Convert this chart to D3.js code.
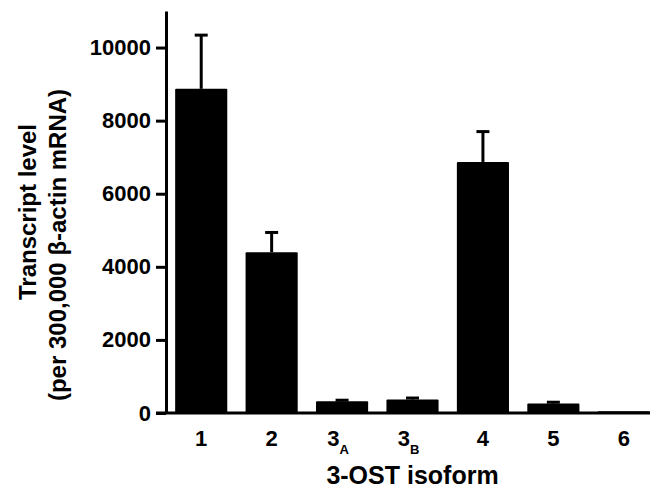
<!DOCTYPE html>
<html>
<head>
<meta charset="utf-8">
<script src="https://cdn.jsdelivr.net/npm/d3@7"></script>
<style>
  body { margin: 0; background: #fff; }
  text { font-family: "Liberation Sans", Arial, sans-serif; font-weight: bold; }
</style>
</head>
<body>
<div id="chart"></div>
<script>
(function() {
    // data
    var isoforms = ["1", "2", "3A", "3B", "4", "5", "6"];
    var mainLabels = ["1", "2", "3", "3", "4", "5", "6"];
    var subLabels = ["", "", "A", "B", "", "", ""];
    var means = [8870, 4400, 320, 370, 6870, 260, 50];
    var errors = [1470, 540, 30, 40, 830, 35, 0];
    var yTicks = [0, 2000, 4000, 6000, 8000, 10000];

    var W = 650, H = 491;
    var margin = {top: 11, right: -9, bottom: 78, left: 166},
        width = W - margin.left - margin.right,
        height = H - margin.top - margin.bottom;

    var svg = d3.select("#chart").append("svg")
        .attr("width", W)
        .attr("height", H)
        .append("g")
        .attr("transform", "translate(" + margin.left + "," + margin.top + ")");

    var x = d3.scaleBand()
        .domain(isoforms)
        .range([0, width])
        .paddingInner(0.26)
        .paddingOuter(0.13);

    var y = d3.scaleLinear()
        .domain([0, 11000])
        .range([height, 0]);

    var data = isoforms.map(function(k, i) {
        return {key: k, mean: means[i], err: errors[i], main: mainLabels[i], sub: subLabels[i]};
    });

    // bars
    svg.selectAll(".bar")
        .data(data)
        .enter().append("rect")
        .attr("class", "bar")
        .attr("x", d => x(d.key))
        .attr("y", d => y(d.mean))
        .attr("width", x.bandwidth())
        .attr("height", d => height - y(d.mean))
        .attr("rx", 1)
        .style("fill", "#000");

    // error bars (upper only)
    var capW = 13;
    var eb = svg.selectAll(".err")
        .data(data.filter(d => d.err > 0))
        .enter().append("g")
        .attr("class", "err");
    eb.append("line")
        .attr("x1", d => x(d.key) + x.bandwidth() / 2)
        .attr("x2", d => x(d.key) + x.bandwidth() / 2)
        .attr("y1", d => y(d.mean))
        .attr("y2", d => y(d.mean + d.err))
        .attr("stroke", "#000")
        .attr("stroke-width", 3);
    eb.append("line")
        .attr("x1", d => x(d.key) + x.bandwidth() / 2 - capW / 2)
        .attr("x2", d => x(d.key) + x.bandwidth() / 2 + capW / 2)
        .attr("y1", d => y(d.mean + d.err))
        .attr("y2", d => y(d.mean + d.err))
        .attr("stroke", "#000")
        .attr("stroke-width", 3);

    // y axis
    var yAxis = svg.append("g")
        .call(d3.axisLeft(y).tickValues(yTicks).tickFormat(d3.format("d"))
            .tickSize(10).tickSizeOuter(0).tickPadding(5));
    yAxis.select(".domain").attr("stroke-width", 3);
    yAxis.selectAll(".tick line").attr("stroke-width", 3);
    yAxis.selectAll(".tick text")
        .style("font-size", "22px")
        .style("font-family", "'Liberation Sans', Arial, sans-serif")
        .style("font-weight", "bold")
        .attr("fill", "#000");

    // x axis line (extends left like the zero tick)
    svg.append("line")
        .attr("x1", -10)
        .attr("x2", width)
        .attr("y1", height)
        .attr("y2", height)
        .attr("stroke", "#000")
        .attr("stroke-width", 3);

    // x tick labels with subscripts
    var xl = svg.selectAll(".xlab")
        .data(data)
        .enter().append("text")
        .attr("class", "xlab")
        .attr("x", d => x(d.key) + x.bandwidth() / 2 - (d.sub ? 4 : 0))
        .attr("y", height + 33)
        .attr("text-anchor", "middle")
        .style("font-size", "22px");
    xl.append("tspan").text(d => d.main);
    xl.append("tspan")
        .attr("dy", 8)
        .style("font-size", "13px")
        .text(d => d.sub);

    // axis titles
    svg.append("text")
        .attr("x", width / 2)
        .attr("y", height + 71)
        .attr("text-anchor", "middle")
        .style("font-size", "25px")
        .text("3-OST isoform");

    var yt = svg.append("text")
        .attr("transform", "rotate(-90)")
        .attr("text-anchor", "middle")
        .style("font-size", "24px");
    yt.append("tspan")
        .attr("x", -height / 2)
        .attr("y", -margin.left + 36)
        .text("Transcript level");
    yt.append("tspan")
        .attr("x", -height / 2 - 33)
        .attr("y", -margin.left + 66)
        .text("(per 300,000 \u03b2-actin mRNA)");
})();
</script>
</body>
</html>
